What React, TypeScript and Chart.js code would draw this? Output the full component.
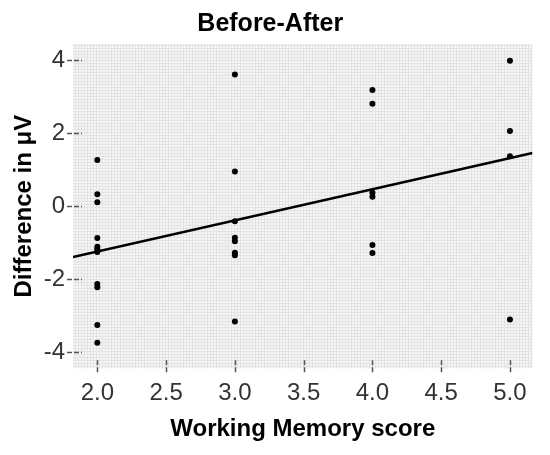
import React, { useEffect, useRef } from "react";
import { Chart, registerables } from "chart.js";

Chart.register(...registerables);

const workingMemory = [
  2, 2, 2, 2, 2, 2, 2, 2, 2, 2, 2,
  3, 3, 3, 3, 3, 3, 3, 3,
  4, 4, 4, 4, 4, 4,
  5, 5, 5, 5,
];
const difference = [
  1.26, 0.32, 0.1, -0.88, -1.12, -1.19, -1.26, -2.14, -2.23, -3.26, -3.75,
  3.6, 0.94, -0.42, -0.87, -0.97, -1.28, -1.35, -3.17,
  3.18, 2.8, 0.36, 0.25, -1.07, -1.29,
  3.98, 2.05, 1.36, -3.11,
];
const fitX = [1.823, 5.164];
const fitY = [-1.4, 1.45];
const xTickValues = [2.0, 2.5, 3.0, 3.5, 4.0, 4.5, 5.0];
const yTickValues = [-4, -2, 0, 2, 4];
const xRange = [1.823, 5.164];
const yRange = [-4.45, 4.44];

const FONT = "'Liberation Sans', Arial, sans-serif";

const bgPlugin = {
  id: "spssBg",
  beforeDraw(chart: any) {
    const { ctx, chartArea } = chart;
    if (!chartArea) return;
    const pc = document.createElement("canvas");
    pc.width = 3;
    pc.height = 3;
    const p = pc.getContext("2d")!;
    p.fillStyle = "#f6f6f6";
    p.fillRect(0, 0, 3, 3);
    p.fillStyle = "#e3e3e3";
    p.fillRect(0, 0, 3, 1);
    p.fillRect(0, 0, 1, 3);
    const pattern = ctx.createPattern(pc, "repeat");
    ctx.save();
    ctx.fillStyle = pattern;
    ctx.fillRect(
      chartArea.left,
      chartArea.top,
      chartArea.right - chartArea.left,
      chartArea.bottom - chartArea.top
    );
    ctx.restore();
  },
  afterDatasetsDraw(chart: any) {
    const { ctx, chartArea, scales } = chart;
    ctx.save();
    ctx.strokeStyle = "#555555";
    ctx.lineWidth = 1.5;
    ctx.setLineDash([5, 2]);
    scales.x.ticks.forEach((t: any) => {
      const px = Math.round(scales.x.getPixelForValue(t.value)) + 0.5;
      ctx.beginPath();
      ctx.moveTo(px, chartArea.bottom - 8);
      ctx.lineTo(px, chartArea.bottom + 6);
      ctx.stroke();
    });
    scales.y.ticks.forEach((t: any) => {
      const py = Math.round(scales.y.getPixelForValue(t.value)) + 0.5;
      ctx.beginPath();
      ctx.moveTo(chartArea.left - 6, py);
      ctx.lineTo(chartArea.left + 9, py);
      ctx.stroke();
    });
    ctx.restore();
  },
};

export default function App() {
  const ref = useRef<HTMLCanvasElement | null>(null);

  useEffect(() => {
    if (!ref.current) return;
    const points = workingMemory.map((x, i) => ({ x, y: difference[i] }));
    const fit = fitX.map((x, i) => ({ x, y: fitY[i] }));
    const chart = new Chart(ref.current, {
      type: "scatter",
      data: {
        datasets: [
          {
            type: "line",
            data: fit,
            borderColor: "#000000",
            borderWidth: 2.5,
            pointRadius: 0,
            fill: false,
          } as any,
          {
            data: points,
            backgroundColor: "#000000",
            borderColor: "#000000",
            pointRadius: 3,
            borderWidth: 0,
          },
        ],
      },
      options: {
        animation: false,
        responsive: false,
        devicePixelRatio: 1,
        layout: { padding: { left: 8, right: 17.5, top: 0, bottom: 0 } },
        plugins: {
          legend: { display: false },
          tooltip: { enabled: false },
          title: {
            display: true,
            text: "Before-After",
            color: "#000000",
            font: { family: FONT, size: 25, weight: "bold" },
            padding: { top: 9.5, bottom: 4.4 },
          },
        },
        scales: {
          x: {
            type: "linear",
            min: xRange[0],
            max: xRange[1],
            afterFit: (s: any) => {
              s.height = 86.7;
            },
            afterBuildTicks: (s: any) => {
              s.ticks = xTickValues.map((v) => ({ value: v }));
            },
            grid: { display: false, drawTicks: false },
            border: { display: false },
            ticks: {
              color: "#333333",
              padding: 11,
              font: { family: FONT, size: 24 },
              maxRotation: 0,
              autoSkip: false,
              callback: (v: any) => Number(v).toFixed(1),
            },
            title: {
              display: true,
              text: "Working Memory score",
              color: "#000000",
              font: { family: FONT, size: 24, weight: "bold" },
              padding: { top: 0, bottom: 11.6 },
            },
          },
          y: {
            type: "linear",
            min: yRange[0],
            max: yRange[1],
            afterFit: (s: any) => {
              s.width = 65;
            },
            afterBuildTicks: (s: any) => {
              s.ticks = yTickValues.map((v) => ({ value: v }));
            },
            grid: { display: false, drawTicks: false },
            border: { display: false },
            ticks: {
              color: "#333333",
              padding: 8,
              font: { family: FONT, size: 24 },
              autoSkip: false,
              callback: (v: any) => String(v),
            },
            title: {
              display: true,
              text: "Difference in μV",
              color: "#000000",
              font: { family: FONT, size: 24, weight: "bold" },
              padding: { top: 1.6, bottom: 0 },
            },
          },
        },
      },
      plugins: [bgPlugin],
    });
    return () => chart.destroy();
  }, []);

  return (
    <div style={{ position: "absolute", left: 0, top: 0, width: 550, height: 455 }}>
      <canvas ref={ref} width={550} height={455} />
    </div>
  );
}
